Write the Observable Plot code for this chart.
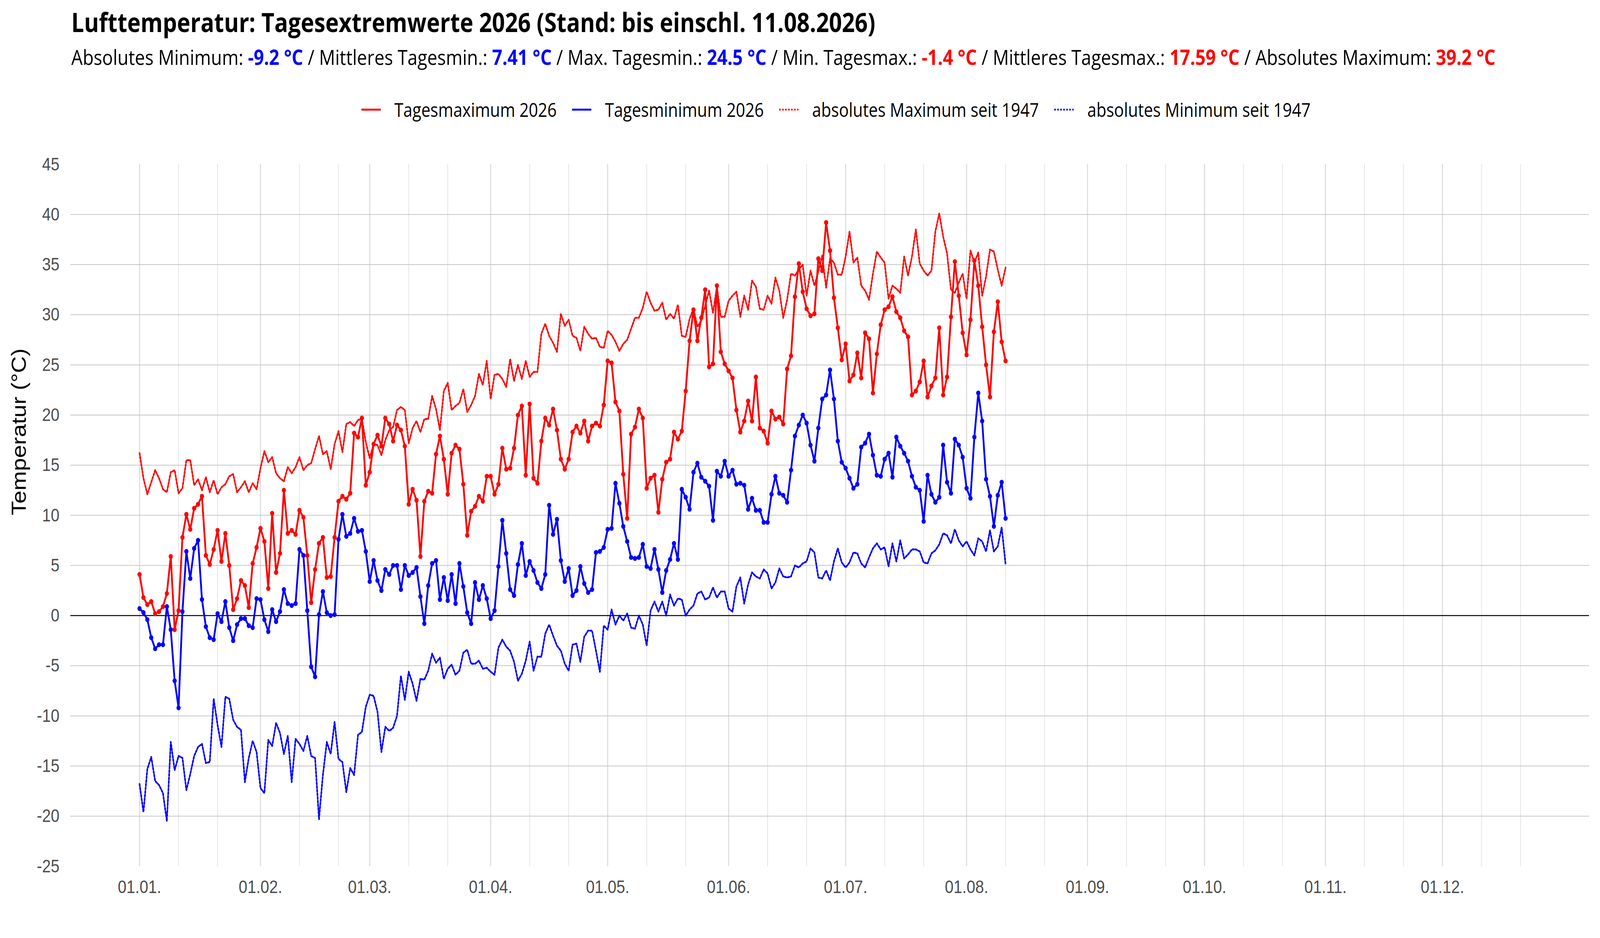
<!DOCTYPE html>
<html>
<head>
<meta charset="utf-8">
<script src="https://cdn.jsdelivr.net/npm/d3@7"></script>
<script src="https://cdn.jsdelivr.net/npm/@observablehq/plot@0.6"></script>
<style>
  html, body { margin: 0; padding: 0; background: #ffffff; overflow: hidden; }
  #frame { overflow: hidden; position: relative; }
  #wrap { width: 4800px; height: 2400px; transform-origin: 0 0; position: absolute; left: 0; top: 0; }
  svg { display: block; }
</style>
</head>
<body>
<div id="frame"><div id="wrap"></div></div>
<script>
// ---------------- Daten ----------------
const startDate = "2026-01-01";

const titleText = "Lufttemperatur: Tagesextremwerte 2026 (Stand: bis einschl. 11.08.2026)";

const subtitleParts = [
  ["Absolutes Minimum: ", "-9.2 °C", "blue"],
  [" / Mittleres Tagesmin.: ", "7.41 °C", "blue"],
  [" / Max. Tagesmin.: ", "24.5 °C", "blue"],
  [" / Min. Tagesmax.: ", "-1.4 °C", "red"],
  [" / Mittleres Tagesmax.: ", "17.59 °C", "red"],
  [" / Absolutes Maximum: ", "39.2 °C", "red"]
];

const seriesNames = ["Tagesmaximum 2026", "Tagesminimum 2026", "absolutes Maximum seit 1947", "absolutes Minimum seit 1947"];
const seriesColors = ["#ff0000", "#0000ff", "#ff0000", "#0000ff"];
const seriesDotted = [false, false, true, true];

const yTicks = [-25, -20, -15, -10, -5, 0, 5, 10, 15, 20, 25, 30, 35, 40, 45];
const yGrid = [-20, -15, -10, -5, 0, 5, 10, 15, 20, 25, 30, 35, 40];
const yLabel = "Temperatur (°C)";

// Tagesmaximum 2026 (01.01. - 11.08.)
const tmax = [
  4.1, 1.8, 1.1, 1.4, 0.2, 0.4, 0.9, 2.2, 5.9, -1.4,
  0.5, 7.8, 10.1, 8.6, 10.7, 11.1, 11.9, 6.0, 5.1, 6.6,
  8.5, 5.4, 8.2, 5.0, 0.6, 1.7, 3.5, 3.0, 0.8, 5.2,
  6.8, 8.7, 7.4, 2.7, 10.2, 4.3, 6.2, 12.5, 8.2, 8.5,
  8.1, 10.5, 9.8, 6.0, 1.3, 4.6, 7.2, 7.8, 3.8, 3.9,
  7.8, 11.4, 11.9, 11.6, 12.2, 18.2, 17.8, 19.7, 13.0, 14.3,
  17.1, 18.0, 16.9, 19.7, 19.1, 17.4, 19.0, 18.5, 16.9, 11.1,
  12.6, 11.5, 5.9, 11.4, 12.4, 12.2, 16.1, 17.9, 15.6, 12.1,
  16.2, 17.0, 16.6, 13.1, 8.0, 10.4, 10.9, 11.9, 11.4, 13.9,
  13.9, 12.1, 13.1, 16.7, 14.6, 14.7, 16.7, 20.0, 20.9, 14.0,
  21.1, 13.7, 13.2, 17.4, 19.7, 19.0, 20.6, 18.5, 15.6, 14.6,
  15.6, 18.3, 18.9, 18.2, 19.4, 17.4, 18.9, 19.2, 18.9, 21.0,
  25.4, 25.2, 21.3, 20.4, 14.1, 9.7, 18.1, 18.8, 20.6, 19.7,
  12.7, 13.7, 14.0, 10.3, 13.6, 15.3, 15.6, 18.3, 17.6, 18.4,
  22.4, 27.4, 30.5, 27.4, 29.7, 32.5, 24.8, 25.1, 32.9, 26.3,
  25.1, 24.4, 23.7, 20.5, 18.3, 19.4, 21.4, 19.4, 23.8, 18.7,
  18.4, 17.2, 20.4, 19.6, 19.8, 19.1, 24.6, 25.9, 31.8, 35.1,
  32.3, 30.6, 29.9, 30.1, 35.6, 34.4, 39.2, 36.4, 31.7, 28.7,
  25.5, 27.1, 23.4, 24.0, 26.2, 23.7, 28.2, 27.6, 22.2, 26.1,
  29.0, 30.5, 30.8, 31.8, 30.3, 29.7, 28.4, 27.8, 22.0, 22.4,
  23.3, 25.4, 21.8, 22.9, 23.7, 28.7, 22.0, 23.8, 29.8, 35.3,
  31.9, 28.2, 26.0, 29.5, 35.4, 32.9, 28.8, 25.0, 21.8, 28.3,
  31.3, 27.3, 25.4
];

// Tagesminimum 2026
const tmin = [
  0.7, 0.3, -0.4, -2.2, -3.3, -2.9, -2.9, 0.9, -1.4, -6.5,
  -9.2, 0.4, 6.4, 3.7, 6.7, 7.5, 1.6, -1.1, -2.2, -2.4,
  0.2, -0.6, 1.4, -1.2, -2.5, -0.9, -0.3, -0.3, -1.0, -1.2,
  1.7, 1.6, -0.4, -1.6, 0.6, -0.6, 0.4, 2.6, 1.2, 1.0,
  1.2, 6.6, 6.0, 0.5, -5.1, -6.1, 0.1, 2.4, 0.3, 0.0,
  0.1, 7.6, 10.1, 7.9, 8.2, 9.7, 8.4, 8.5, 6.4, 3.4,
  5.5, 3.5, 2.5, 4.6, 4.1, 5.0, 5.0, 2.6, 5.0, 4.0,
  4.3, 4.8, 1.9, -0.8, 3.0, 5.2, 5.5, 1.6, 3.8, 1.5,
  4.1, 1.2, 5.2, 2.9, 0.3, -0.8, 3.3, 1.6, 3.0, 1.7,
  -0.3, 0.5, 4.9, 9.5, 6.2, 2.6, 2.0, 5.1, 7.2, 4.0,
  5.4, 4.5, 3.3, 2.7, 4.1, 11.0, 8.1, 9.6, 5.5, 3.4,
  4.7, 2.0, 2.5, 4.9, 3.2, 2.3, 2.6, 6.3, 6.4, 6.8,
  8.6, 8.7, 13.2, 11.2, 8.9, 7.4, 5.8, 5.7, 5.8, 7.1,
  4.9, 4.7, 6.6, 4.6, 2.3, 4.5, 5.6, 7.2, 5.6, 12.6,
  11.8, 10.6, 14.3, 15.2, 13.8, 13.4, 12.9, 9.5, 14.4, 13.9,
  15.4, 13.9, 14.5, 13.1, 13.2, 13.0, 10.6, 11.7, 10.5, 10.5,
  9.3, 9.3, 12.1, 13.9, 12.2, 12.0, 11.3, 14.5, 17.9, 19.0,
  20.0, 19.2, 17.0, 15.4, 18.7, 21.6, 22.0, 24.5, 21.6, 17.4,
  15.3, 14.7, 13.7, 12.7, 13.1, 16.8, 17.2, 18.1, 16.0, 14.0,
  13.9, 15.6, 16.2, 13.8, 17.8, 16.9, 16.2, 15.4, 13.9, 12.8,
  12.5, 9.4, 14.0, 12.1, 11.3, 11.8, 17.0, 13.3, 12.2, 17.6,
  17.0, 15.8, 12.7, 11.7, 17.8, 22.2, 19.4, 13.6, 11.9, 8.9,
  12.0, 13.3, 9.7
];

// absolutes Maximum seit 1947
const absMax = [
  16.2, 13.7, 12.1, 13.3, 14.5, 13.7, 12.6, 12.3, 14.3, 14.5,
  12.2, 12.7, 15.5, 15.5, 13.0, 13.6, 12.5, 13.8, 12.3, 13.5,
  12.1, 12.8, 13.1, 13.9, 14.1, 12.3, 12.8, 13.4, 12.3, 13.2,
  12.6, 14.7, 16.4, 15.3, 15.8, 14.2, 13.7, 13.4, 14.8, 14.2,
  14.8, 15.8, 14.5, 15.0, 15.2, 16.6, 17.9, 16.1, 16.4, 14.6,
  17.1, 18.4, 16.3, 19.1, 19.3, 18.9, 19.5, 19.6, 17.3, 15.7,
  17.1, 17.0, 16.0, 17.5, 18.5, 18.8, 20.5, 20.8, 20.5, 17.2,
  18.7, 19.4, 18.3, 19.6, 19.6, 21.9, 20.6, 18.5, 22.4, 23.2,
  20.5, 20.9, 21.2, 22.6, 20.3, 21.0, 21.9, 24.1, 23.0, 25.4,
  21.6, 24.0, 24.1, 23.6, 22.8, 25.6, 23.4, 25.0, 23.6, 25.4,
  23.8, 24.3, 24.3, 28.1, 29.1, 27.9, 27.2, 26.3, 30.1, 28.9,
  29.5, 27.9, 27.7, 26.4, 28.8, 28.1, 27.6, 27.7, 26.8, 26.7,
  28.4, 28.0, 27.3, 26.4, 27.1, 27.5, 28.6, 29.7, 29.7, 30.7,
  32.3, 31.2, 30.4, 30.5, 31.2, 29.5, 30.1, 29.6, 31.0, 27.9,
  27.8, 29.6, 30.6, 28.8, 29.4, 30.9, 32.4, 30.2, 32.8, 29.8,
  29.8, 31.4, 31.9, 32.3, 29.8, 31.9, 30.5, 33.4, 32.8, 30.6,
  30.5, 31.9, 31.1, 33.7, 32.4, 29.7, 31.5, 34.1, 33.9, 34.5,
  35.0, 31.9, 34.4, 32.9, 34.3, 35.9, 32.7, 35.6, 35.2, 34.0,
  34.0, 35.8, 38.3, 35.2, 35.7, 32.9, 32.4, 31.5, 34.1, 36.3,
  35.7, 35.2, 31.6, 32.9, 32.6, 32.2, 35.8, 33.9, 35.8, 38.5,
  35.1, 34.4, 33.9, 34.4, 38.3, 40.1, 37.8, 36.1, 32.5, 32.2,
  33.2, 34.1, 31.6, 36.4, 35.2, 36.2, 31.9, 33.8, 36.5, 36.3,
  34.5, 32.9, 34.7
];

// absolutes Minimum seit 1947
const absMin = [
  -16.8, -19.6, -15.3, -14.1, -16.5, -16.9, -17.7, -20.5, -12.6, -15.4,
  -14.0, -14.2, -17.4, -15.8, -14.0, -13.1, -12.8, -14.7, -14.6, -8.3,
  -10.9, -13.1, -8.1, -8.3, -10.4, -11.1, -11.4, -16.6, -14.2, -12.5,
  -13.6, -17.2, -17.7, -12.4, -13.0, -10.7, -11.7, -13.8, -12.0, -16.6,
  -12.3, -12.8, -13.5, -12.0, -14.0, -14.2, -20.3, -15.9, -12.6, -13.8,
  -10.6, -14.3, -14.6, -17.6, -15.2, -15.9, -11.9, -11.6, -9.1, -7.9,
  -8.0, -9.6, -13.6, -11.1, -11.5, -11.2, -10.0, -6.0, -8.4, -5.6,
  -6.8, -8.5, -6.3, -6.4, -5.5, -3.8, -4.7, -4.2, -6.3, -5.3,
  -4.9, -5.9, -5.5, -3.7, -3.4, -4.8, -4.8, -4.5, -5.3, -5.2,
  -5.6, -5.9, -3.2, -2.4, -3.1, -3.5, -4.6, -6.5, -5.8, -4.5,
  -2.6, -5.5, -4.1, -4.1, -1.8, -0.9, -2.0, -3.0, -3.5, -4.8,
  -5.5, -2.9, -2.8, -4.6, -2.1, -1.5, -1.5, -3.5, -5.6, -1.0,
  -1.4, 0.6, -0.9, 0.0, -0.5, 0.2, -1.2, -1.3, 0.0, -0.9,
  -3.0, 0.5, 1.4, 0.4, 1.4, 0.0, 2.1, 1.0, 1.7, 1.6,
  0.0, 0.6, 1.0, 2.2, 2.4, 1.6, 1.8, 2.8, 1.8, 2.4,
  2.4, 0.7, 0.4, 2.9, 3.8, 1.2, 3.1, 4.3, 3.9, 3.7,
  4.6, 4.2, 2.7, 3.3, 4.7, 3.9, 3.8, 3.9, 5.0, 4.8,
  5.2, 5.4, 6.7, 6.3, 3.8, 3.7, 4.5, 3.5, 5.4, 6.7,
  5.3, 4.8, 5.3, 6.3, 6.2, 5.2, 4.8, 5.8, 6.7, 7.2,
  6.6, 6.8, 4.9, 7.2, 5.4, 7.5, 5.7, 6.1, 6.6, 6.6,
  6.4, 5.3, 5.2, 6.2, 6.5, 7.1, 8.2, 8.0, 7.2, 8.6,
  7.5, 6.9, 7.4, 6.6, 6.0, 7.7, 7.4, 6.4, 8.5, 6.4,
  6.9, 8.8, 5.1
];

// ---------------- Aufbau ----------------
const t0 = d3.utcParse("%Y-%m-%d")(startDate);
const dayAt = n => new Date(t0.getTime() + n * 864e5);
const rows = tmax.map((v, i) => ({
  date: d3.utcDay.offset(t0, i),
  tmax: v, tmin: tmin[i], absMax: absMax[i], absMin: absMin[i]
}));

const monthStarts = d3.utcMonths(t0, d3.utcYear.offset(t0, 1));
const minorDays = [];
monthStarts.forEach(m => { minorDays.push(d3.utcDay.offset(m, 10), d3.utcDay.offset(m, 20)); });

const W = 4800, H = 2400, HEAD = 340, PH = 2060;
const frame = document.getElementById("frame");
const wrap = document.getElementById("wrap");
// Entwurf in 4800 x 2400 px, auf das tatsächliche Fenster abgebildet
const vw = document.documentElement.clientWidth || window.innerWidth || W;
const vh = document.documentElement.clientHeight || window.innerHeight || H;
const sx = vw / W, sy = vh / H;
wrap.style.transform = `scale(${sx}, ${sy})`;
frame.style.width = vw + "px";
frame.style.height = vh + "px";

// Kopfbereich (Titel, Untertitel, Legende)
const NS = "http://www.w3.org/2000/svg";
const head = document.createElementNS(NS, "svg");
head.setAttribute("width", W);
head.setAttribute("height", HEAD);
wrap.appendChild(head);
const HF = "'Open Sans', 'Noto Sans', sans-serif";

function mk(tag, attrs, parent) {
  const e = document.createElementNS(NS, tag);
  for (const k in attrs) e.setAttribute(k, attrs[k]);
  (parent || head).appendChild(e);
  return e;
}
function fit(el, target) {
  const w = el.getComputedTextLength();
  const fs = parseFloat(el.getAttribute("font-size"));
  el.setAttribute("font-size", (fs * target / w).toFixed(2));
}

const title = mk("text", {x: 214, y: 82, "font-size": 64, "font-weight": 700, "font-family": HF, fill: "#000"});
title.textContent = titleText;
fit(title, 2412);

const sub = mk("text", {x: 214, y: 166, "font-size": 48, "font-family": HF, fill: "#000"});
subtitleParts.forEach(([lab, val, col]) => {
  const a = mk("tspan", {}, sub); a.textContent = lab;
  const b = mk("tspan", {fill: col, "font-weight": 700}, sub); b.textContent = val;
});
fit(sub, 4273);

// Legende
const leg = mk("g", {});
const legTexts = seriesNames.map(n => {
  const t = mk("text", {y: 299, "font-size": 50, "font-family": HF, fill: "#000"}, leg);
  t.textContent = n; return t;
});
const sumW = legTexts.reduce((s, t) => s + t.getComputedTextLength(), 0);
const lfs = 50 * (483 + 469 + 689 + 673) / sumW;
legTexts.forEach(t => t.setAttribute("font-size", lfs.toFixed(2)));
const SW = 58, GT = 41, GI = 46;
const widths = legTexts.map(t => t.getComputedTextLength());
const total = widths.reduce((s, w) => s + w, 0) + 4 * (SW + GT) + 3 * GI;
let cx = 2508 - total / 2;
legTexts.forEach((t, i) => {
  mk("line", {x1: cx, x2: cx + SW, y1: 280.5, y2: 280.5, stroke: seriesColors[i],
    "stroke-width": seriesDotted[i] ? 4.6 : 5.2,
    "stroke-dasharray": seriesDotted[i] ? "4.6 4.4" : "none"}, leg);
  t.setAttribute("x", cx + SW + GT);
  cx += SW + GT + widths[i] + GI;
});

// Diagramm
const chart = Plot.plot({
  width: W,
  height: PH,
  marginTop: 80,
  marginBottom: 184,
  marginLeft: 211,
  marginRight: 33,
  style: {fontFamily: "'Liberation Sans', Arial, sans-serif", background: "#ffffff", maxWidth: "none"},
  x: {type: "utc", domain: [dayAt(-17.7), dayAt(371.6)]},
  y: {domain: [-25, 45]},
  marks: [
    Plot.ruleX(minorDays, {stroke: "#e3e3e3", strokeWidth: 2.2}),
    Plot.ruleX(monthStarts, {stroke: "#dcdcdc", strokeWidth: 3.2}),
    Plot.ruleY(yGrid, {stroke: "#c6c6c6", strokeWidth: 2}),
    Plot.ruleY([0], {stroke: "#000000", strokeWidth: 2.6}),
    Plot.lineY(rows, {x: "date", y: "absMax", stroke: seriesColors[2], strokeWidth: 4.8, strokeDasharray: "4.8 4.6"}),
    Plot.lineY(rows, {x: "date", y: "absMin", stroke: seriesColors[3], strokeWidth: 4.8, strokeDasharray: "4.8 4.6"}),
    Plot.lineY(rows, {x: "date", y: "tmin", stroke: seriesColors[1], strokeWidth: 5.4}),
    Plot.dot(rows, {x: "date", y: "tmin", fill: seriesColors[1], r: 6.3}),
    Plot.lineY(rows, {x: "date", y: "tmax", stroke: seriesColors[0], strokeWidth: 5.4}),
    Plot.dot(rows, {x: "date", y: "tmax", fill: seriesColors[0], r: 6.3}),
    Plot.axisX({ticks: monthStarts, tickFormat: d3.utcFormat("%d.%m."), tickSize: 0, tickPadding: 35,
      fontSize: 47, fill: "#4d4d4d", label: null}),
    Plot.axisY({ticks: yTicks, tickFormat: d => String(d), tickSize: 0, tickPadding: 33, fontSize: 47, fill: "#4d4d4d", label: null}),
    Plot.text([yLabel], {text: d => d, frameAnchor: "left", dx: -153, rotate: -90, fontSize: 60, fill: "#000000"})
  ]
});
wrap.appendChild(chart);
</script>
</body>
</html>
